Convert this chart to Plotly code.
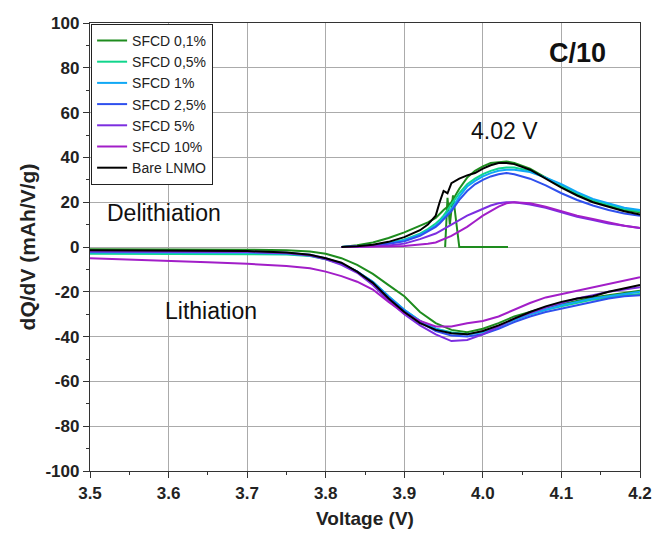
import plotly.graph_objects as go

names = ["SFCD 0,1%", "SFCD 0,5%", "SFCD 1%", "SFCD 2,5%", "SFCD 5%", "SFCD 10%", "Bare LNMO"]
colors = ["#1e8c1e", "#10d58c", "#10a8f5", "#2f50ee", "#7c2ee0", "#a21ec8", "#000000"]

x_ticks = [3.5, 3.6, 3.7, 3.8, 3.9, 4.0, 4.1, 4.2]
x_labels = ["3.5", "3.6", "3.7", "3.8", "3.9", "4.0", "4.1", "4.2"]
y_ticks = [-100, -80, -60, -40, -20, 0, 20, 40, 60, 80, 100]
y_labels = ["-100", "-80", "-60", "-40", "-20", "0", "20", "40", "60", "80", "100"]

# Delithiation (charge) branch
v_del = [3.82, 3.84, 3.86, 3.88, 3.90, 3.92, 3.93, 3.94, 3.945, 3.95, 3.955, 3.96, 3.97, 3.98, 3.99,
         4.00, 4.01, 4.02, 4.03, 4.04, 4.06, 4.08, 4.10, 4.12, 4.14, 4.16, 4.18, 4.20]
d_01 = [0, 0.8, 2, 4, 6.5, 9.5, 11, 13, 15, 16.5, 18, 20, 26, 31, 34,
        36, 37.5, 38, 38.2, 37.5, 35, 31, 27, 23.5, 20.5, 18.5, 16.5, 15.5]
d_05 = [0, 0.3, 0.8, 1.8, 3.3, 6, 8, 10.5, 12, 14, 16.5, 19, 24, 28, 30.5,
        32.5, 34, 35, 35.5, 35.5, 34, 31, 27.5, 24, 21, 19, 17, 16]
d_1 = [0, 0.2, 0.7, 1.6, 3, 5.5, 7.3, 9.5, 11, 13, 15, 17, 22.5, 27, 29.5,
       31.5, 33, 34, 34.5, 34.5, 33.5, 31, 28, 24.5, 21.5, 19.5, 17.5, 16.5]
d_25 = [0, 0.2, 0.6, 1.4, 2.5, 5, 7, 9, 10.5, 12.5, 14, 16, 21, 25, 28,
        30, 31.5, 32.5, 33, 32.5, 30.5, 27.5, 24, 21, 18.5, 16.5, 15, 14]
d_5 = [0, 0, 0.3, 0.7, 1.5, 3.5, 4.7, 6, 7, 8, 9, 10, 12, 14, 15.5,
       17, 18.5, 19.5, 20, 20, 19, 17.5, 15.5, 13.5, 12, 10.5, 9.5, 8.5]
d_10 = [0, 0, 0, 0.2, 0.5, 1, 1.5, 2, 2.8, 3.5, 4.3, 5, 7, 9, 11.5,
        14, 16, 18, 19.5, 20, 19.5, 18, 16, 14, 12.5, 11, 9.5, 8.5]
d_bare = [0, 0.3, 1.0, 2.3, 4.4, 7.5, 10, 14, 20, 25, 24, 28.5, 30.5, 32, 33,
          35, 36.5, 37.5, 37.5, 37, 34.5, 30.5, 26.5, 23, 20, 18, 16, 14.5]

# Spurious segment of the 0,1% record
v_art = [3.952, 3.955, 3.958, 3.962, 3.970, 4.032]
d_art = [0, 22, 10, 23, 0, 0]

# Lithiation (discharge) branch
v_lit = [3.50, 3.55, 3.60, 3.65, 3.70, 3.75, 3.78, 3.80, 3.82, 3.84, 3.86, 3.88, 3.90, 3.92, 3.94,
         3.96, 3.98, 4.00, 4.02, 4.04, 4.06, 4.08, 4.10, 4.12, 4.14, 4.16, 4.18, 4.20]
l_01 = [-1, -1, -1, -1.1, -1.2, -1.5, -2, -3, -5, -8, -12, -17, -22, -29, -34,
        -37, -38, -36.5, -34, -31, -29, -27, -25.5, -24, -22.5, -21.5, -20.5, -19.5]
l_05 = [-3, -3, -3, -3, -3, -3.3, -4, -5.5, -7.5, -11, -15.5, -22, -28, -33, -36.5,
        -38, -39, -38, -35.5, -32.5, -30, -28, -26.5, -25, -23.5, -22.5, -21.5, -21]
l_1 = [-2.5, -2.5, -2.5, -2.5, -2.6, -3, -3.8, -5.3, -7.5, -11, -15.5, -22, -28, -33, -36.5,
       -38.5, -39, -38, -35.5, -32.5, -30, -28, -26, -24.5, -23, -22, -21, -20]
l_25 = [-2, -2, -2, -2, -2.1, -2.6, -3.5, -5, -7.3, -11, -16, -22.5, -28.5, -33.5, -37.5,
        -39.5, -40, -39, -36.5, -33.5, -31, -29, -27.5, -26, -24.5, -23, -22, -21.5]
l_5 = [-2, -2, -2, -2.1, -2.2, -2.8, -3.8, -5.5, -8, -11.5, -17, -24, -30, -35, -39,
       -42, -41.5, -39, -35.5, -32, -29.5, -27, -25, -23, -21.5, -20, -19, -18]
l_10 = [-5, -5.5, -6, -6.8, -7.5, -8.5, -9.5, -11, -13, -15.5, -19, -24.5, -29.5, -33, -35.5,
        -35.5, -34, -33, -31, -28, -25, -22.5, -21, -19.5, -18, -16.5, -15, -13.5]
l_bare = [-1.5, -1.5, -1.5, -1.6, -1.8, -2.5, -3.5, -5, -7, -11, -16, -23, -29, -34, -37,
          -38.5, -39, -37.5, -35, -32, -29, -26.5, -24.5, -23, -22, -20, -18.5, -17]

del_sets = [d_01, d_05, d_1, d_25, d_5, d_10, d_bare]
lit_sets = [l_01, l_05, l_1, l_25, l_5, l_10, l_bare]

FONT = "Arial, Liberation Sans, sans-serif"

fig = go.Figure()
for i, name in enumerate(names):
    xs = v_lit + [None] + v_del
    ys = lit_sets[i] + [None] + del_sets[i]
    if i == 0:
        xs = xs + [None] + v_art
        ys = ys + [None] + d_art
    fig.add_trace(go.Scatter(x=xs, y=ys, mode="lines", name=name,
                             line=dict(color=colors[i], width=2),
                             connectgaps=False))

axis_common = dict(showline=True, linecolor="#333333", linewidth=1.3, mirror=True,
                   ticks="outside", ticklen=6, tickcolor="#333333",
                   showgrid=True, gridcolor="#ababab", gridwidth=1.3, zeroline=False,
                   tickfont=dict(family=FONT, size=17, color="#222222"))

fig.update_layout(
    width=664, height=542,
    margin=dict(l=90, r=17, t=23, b=71),
    plot_bgcolor="white", paper_bgcolor="white",
    font=dict(family=FONT, color="#222222"),
    xaxis=dict(range=[3.5, 4.2], tickvals=x_ticks,
               ticktext=["<b>%s</b>" % s for s in x_labels],
               title=dict(text="<b>Voltage (V)</b>", standoff=10,
                          font=dict(family=FONT, size=19, color="#222222")),
               minor=dict(dtick=0.05, ticks="outside", ticklen=3, tickcolor="#333333", showgrid=False),
               **axis_common),
    yaxis=dict(range=[-100, 100], tickvals=y_ticks,
               ticktext=["<b>%s</b>" % s for s in y_labels],
               title=dict(text="<b>dQ/dV (mAh/V/g)</b>", standoff=4,
                          font=dict(family=FONT, size=21, color="#222222")),
               minor=dict(dtick=10, ticks="outside", ticklen=3, tickcolor="#333333", showgrid=False),
               **axis_common),
    legend=dict(x=0.002, y=0.998, xanchor="left", yanchor="top",
                bgcolor="white", bordercolor="#222222", borderwidth=1,
                font=dict(family=FONT, size=14, color="#222222"),
                tracegroupgap=0, itemwidth=30),
    showlegend=True,
)

fig.add_annotation(x=4.12, y=86.6, text="<b>C/10</b>", showarrow=False,
                   font=dict(family=FONT, size=27, color="#111111"))
fig.add_annotation(x=4.028, y=52, text="4.02 V", showarrow=False,
                   font=dict(family=FONT, size=23, color="#111111"))
fig.add_annotation(x=3.594, y=15.4, text="Delithiation", showarrow=False,
                   font=dict(family=FONT, size=23, color="#111111"))
fig.add_annotation(x=3.6546, y=-28.7, text="Lithiation", showarrow=False,
                   font=dict(family=FONT, size=23, color="#111111"))

fig.write_html("out.html")
